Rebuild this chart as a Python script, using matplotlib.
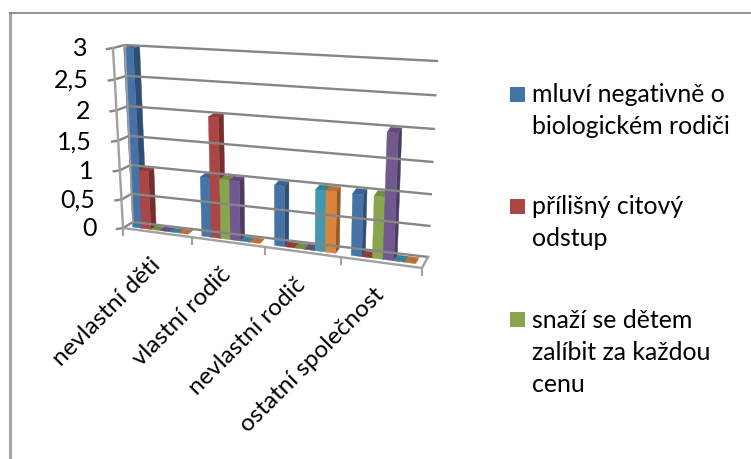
import numpy as np
import matplotlib
matplotlib.use("Agg")
import matplotlib.pyplot as plt

categories = ["nevlastní děti", "vlastní rodič", "nevlastní rodič", "ostatní společnost"]
mluvi = [3, 1, 1, 1]
citovy = [1, 2, 0, 0]
snazi = [0, 1, 0, 1]
ctvrta = [0, 1, 0, 2]
pata = [0, 0, 1, 0]
sesta = [0, 0, 1, 0]
series = [mluvi, citovy, snazi, ctvrta, pata, sesta]
colors = ["#4572A7", "#AA4643", "#89A54E", "#71588F", "#4198AF", "#DB843D"]
ticks = [0, 0.5, 1, 1.5, 2, 2.5, 3]
ticklabels = ["0", "0,5", "1", "1,5", "2", "2,5", "3"]
legend_lines = [["mluví negativně o", "biologickém rodiči"],
                ["přílišný citový", "odstup"],
                ["snaží se dětem", "zalíbit za každou", "cenu"]]
legend_colors = colors[:3]

W, H = 751, 459
VMAX = 3.0
N = len(categories)
# corners of the chart box in pixels: (cat 0,val 0), (cat N,val 0), (cat N,val max), (cat 0,val max)
FRONT = [(123, 228), (422, 268), (431, 70), (113, 48)]
BACK = [(133, 222), (428, 257), (437, 61), (125, 45)]
GRID = "#868686"


def homography(pts):
    src = [(0, 0), (1, 0), (1, 1), (0, 1)]
    A = []
    b = []
    for (u, v), (x, y) in zip(src, pts):
        A.append([u, v, 1, 0, 0, 0, -u * x, -v * x])
        A.append([0, 0, 0, u, v, 1, -u * y, -v * y])
        b += [x, y]
    return np.append(np.linalg.solve(np.array(A, float), np.array(b, float)), 1).reshape(3, 3)


HF = homography(FRONT)
HB = homography(BACK)


def proj(c, v, d):
    # c category position, v value, d depth 0 front .. 1 back
    p = np.array([c / N, v / VMAX, 1.0])
    f = HF @ p
    g = HB @ p
    f = f[:2] / f[2]
    g = g[:2] / g[2]
    return (1 - d) * f + d * g


def shade(col, k):
    rgb = np.array(matplotlib.colors.to_rgb(col))
    return tuple(rgb * k)


plt.rcParams["font.family"] = ["Lato", "DejaVu Sans"]
fig = plt.figure(figsize=(W / 100, H / 100), dpi=100)
ax = fig.add_axes([0, 0, 1, 1])
ax.set_xlim(0, W)
ax.set_ylim(H, 0)
ax.axis("off")

# outer frame, only left and top are visible
ax.plot([9.5, 9.5], [12, H], color="#A6A6A6", lw=2.2, solid_capstyle="butt")
ax.plot([8.5, W], [12.5, 12.5], color="#808080", lw=1.2, solid_capstyle="butt")

# walls and floor
for t in ticks:
    a, b, c = proj(0, t, 0), proj(0, t, 1), proj(N, t, 1)
    ax.plot([a[0] - 6, a[0], b[0], c[0]], [a[1] + 1, a[1], b[1], c[1]], color=GRID, lw=1.7, solid_joinstyle="round")
a, b = proj(0, 0, 0), proj(0, VMAX, 0)
ax.plot([a[0], b[0]], [a[1], b[1]], color="#A0A0A0", lw=1.7)
a, b = proj(0, 0, 1), proj(0, VMAX, 1)
ax.plot([a[0], b[0]], [a[1], b[1]], color="#A0A0A0", lw=1.2)
a, b, c = proj(0, 0, 0), proj(N, 0, 0), proj(N, 0, 1)
ax.plot([a[0], b[0], c[0]], [a[1], b[1], c[1]], color="#A0A0A0", lw=1.7)
for i in range(N + 1):
    a = proj(i, 0, 0)
    ax.plot([a[0], a[0]], [a[1], a[1] + 7], color="#A0A0A0", lw=1.5)

# bars
D0, D1 = 0.3, 0.85
GAP = 0.1
bw = (1 - 2 * GAP) / len(series)
for i in range(N):
    for j, vals in enumerate(series):
        v = vals[i]
        x0 = i + GAP + j * bw
        x1 = x0 + bw
        col = colors[j]
        side = [proj(x1, 0, D0), proj(x1, 0, D1), proj(x1, v, D1), proj(x1, v, D0)]
        top = [proj(x0, v, D0), proj(x1, v, D0), proj(x1, v, D1), proj(x0, v, D1)]
        face = [proj(x0, 0, D0), proj(x1, 0, D0), proj(x1, v, D0), proj(x0, v, D0)]
        ax.fill(*zip(*side), color=shade(col, 0.68), lw=0.3)
        ax.fill(*zip(*top), color=shade(col, 0.85), lw=0.3)
        if v > 0:
            ax.fill(*zip(*face), color=col, lw=0.3)

# value labels
for t, lab in zip(ticks, ticklabels):
    a = proj(0, t, 0)
    ax.text(a[0] - 26, a[1] + 1, lab, ha="right", va="center", fontsize=18, color="#000000")

# category labels
for i, lab in enumerate(categories):
    a = proj(i + 0.5, 0, 0)
    ax.text(a[0] - 8, a[1] + 22, lab, rotation=45, rotation_mode="anchor", ha="right", va="top",
            fontsize=17.5, color="#000000")

# legend, the last three series do not fit in the original either
legend_top = [87, 199, 312]
for lines, col, y in zip(legend_lines, legend_colors, legend_top):
    ax.add_patch(plt.Rectangle((510, y), 15, 15, color=col, lw=0))
    for k, line in enumerate(lines):
        ax.text(532, y + 8 + k * 32, line, ha="left", va="center", fontsize=17.9, color="#000000")

fig.savefig("out.png", dpi=100)
